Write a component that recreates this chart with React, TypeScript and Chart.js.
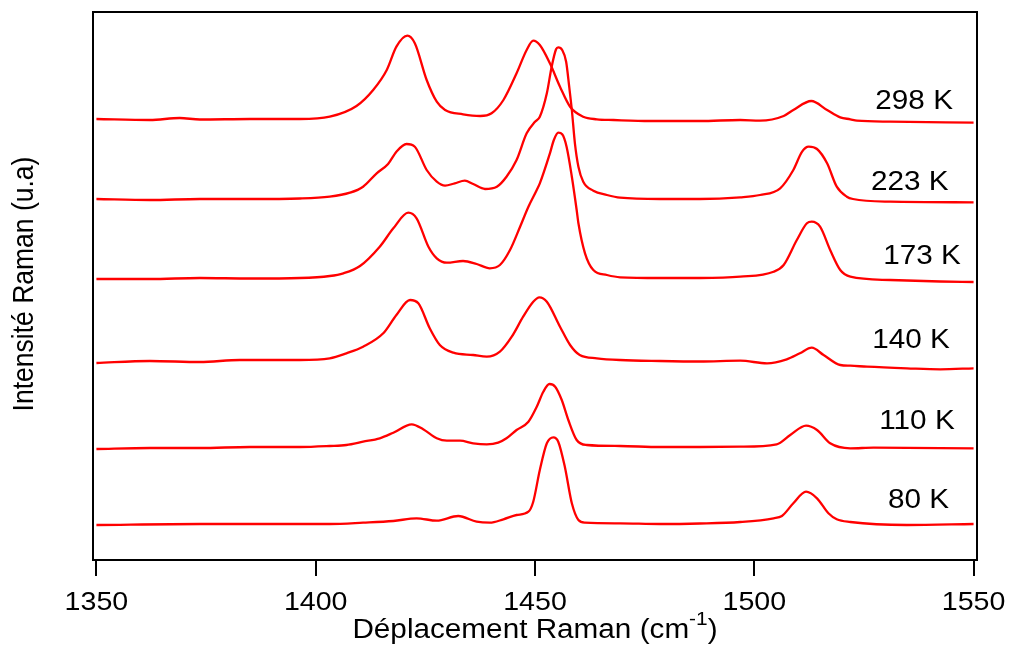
import React, { useEffect, useRef } from "react";
import { Chart, registerables } from "chart.js";

Chart.register(...registerables);

// Axis
const tickValues = [1350, 1400, 1450, 1500, 1550];
const xMin = 1349.22;
const xMax = 1550.78;
const yMin = 0;
const yMax = 548;

// Raman shift (cm-1) and intensity (a.u., stacked) for each temperature
const wn298 = [1350, 1362.2, 1369, 1373.6, 1385, 1396.4, 1403.2, 1409.3, 1413.1, 1416.2, 1418.4, 1420.9, 1422.6, 1425.3, 1427.6, 1429.5, 1433.6, 1437.5, 1440.1, 1442.8, 1445.8, 1448.1, 1449.6, 1451.1, 1453.4, 1455.7, 1458, 1461, 1464.1, 1467.9, 1476.2, 1487.6, 1496.8, 1501.3, 1506.7, 1508.9, 1513, 1516.6, 1519.6, 1521.9, 1523.4, 1531, 1550];
const int298 = [441, 440, 442, 440.5, 441, 441, 443.3, 454, 470, 490, 513.3, 524.3, 516.7, 480, 458.3, 450, 445.7, 444, 446.7, 460, 486.7, 510, 519.3, 515, 496.7, 473.3, 453.3, 443.3, 440.7, 440, 439, 439, 440, 439.3, 444, 450, 459, 450, 442.7, 440.7, 439.3, 438.3, 437.3];

const wn223 = [1350, 1362.2, 1373.6, 1385, 1396.4, 1403.2, 1407.8, 1410.8, 1413.9, 1416.5, 1418.4, 1420.7, 1422.6, 1425.3, 1427.6, 1429.5, 1431.7, 1434, 1435.9, 1438.6, 1441.3, 1443.5, 1445.8, 1448.1, 1450, 1451.1, 1452.7, 1453.8, 1454.8, 1455.3, 1456.2, 1457.1, 1457.8, 1458.4, 1459.1, 1459.9, 1461, 1463.3, 1466.4, 1469.4, 1478.5, 1487.6, 1496.8, 1501.3, 1505.9, 1508.9, 1510.9, 1512.4, 1514.3, 1516.6, 1518.8, 1521.1, 1522.5, 1531, 1550];
const int223 = [361, 360, 361, 361, 361.5, 363.3, 367.3, 373.3, 386.7, 396, 408.3, 416, 413.3, 390, 378.3, 374.3, 376.7, 379.3, 376, 371, 373.3, 383.3, 400, 426.7, 438.3, 443.3, 466.7, 493.3, 510.7, 512.7, 510, 498.3, 473.3, 450, 416.7, 393.3, 378.3, 369.3, 365, 362.3, 361, 361, 362.7, 365, 371.7, 390, 408.3, 413.3, 411, 396.7, 373.3, 363.3, 361, 358.3, 357.7];

const wn173 = [1350, 1362.2, 1373.6, 1385, 1396.4, 1403.2, 1406.3, 1410.1, 1414.6, 1417.7, 1421.1, 1423, 1425.7, 1427.6, 1429.9, 1433.6, 1436.7, 1439.7, 1442, 1444.3, 1446.6, 1448.5, 1450.4, 1451.1, 1453.4, 1454.3, 1455.3, 1456.2, 1457.2, 1458.4, 1459.5, 1459.9, 1461.4, 1463.3, 1466.4, 1469.4, 1478.5, 1487.6, 1496.8, 1504.4, 1506.7, 1509.7, 1512, 1513.1, 1515, 1517.3, 1519.6, 1521.9, 1531, 1542.4, 1550];
const int173 = [281, 281, 282, 281.5, 282, 284, 286.7, 294, 313.3, 331.7, 347.3, 341.7, 313.3, 301.7, 297.3, 299, 296, 291.7, 295, 310, 333.3, 353.3, 370, 376.7, 406.7, 420, 427.3, 425.7, 413.3, 383.3, 350, 336.7, 306.7, 290, 285, 282.7, 282, 282, 283.3, 288.3, 295, 320, 336.7, 338.3, 333.3, 310, 290, 283.3, 280, 278.5, 278];

const wn140 = [1350, 1362.2, 1373.6, 1382.7, 1396.4, 1403.2, 1407, 1410.8, 1415.4, 1418.4, 1421.5, 1423.4, 1426, 1428.3, 1431.4, 1435.9, 1439, 1442, 1444.7, 1447.3, 1449.6, 1451, 1452.7, 1455.7, 1458, 1460.2, 1464.1, 1469.4, 1478.5, 1487.6, 1496.8, 1502.9, 1507.4, 1510.4, 1513.1, 1515.8, 1519.6, 1521.9, 1525.7, 1534.8, 1542.4, 1550];
const int140 = [197, 199, 198, 200, 200, 201.7, 206.7, 213.3, 226.7, 245, 260, 256.7, 231.7, 215, 207.3, 205, 203.3, 208.3, 223.3, 243.3, 258.3, 262.7, 258.3, 233.3, 215, 205, 201.7, 200, 199, 198.5, 199.3, 196.7, 200.7, 206.7, 212.3, 205, 195, 194.3, 193.3, 191.7, 190.7, 191.7];

const wn110 = [1350, 1362.2, 1373.6, 1385, 1396.4, 1403.2, 1407, 1410.8, 1414.6, 1417.7, 1421.9, 1424.5, 1427.6, 1429.9, 1432.9, 1435.9, 1439, 1441.6, 1443.5, 1445.8, 1448.5, 1450.4, 1451.9, 1453.3, 1454.6, 1456.1, 1457.6, 1459.5, 1461.8, 1469.4, 1478.5, 1487.6, 1496.8, 1505.1, 1508.2, 1511.8, 1514.3, 1517.3, 1521.9, 1527.2, 1550];
const int110 = [111, 112, 112, 113, 113, 114, 115, 118.3, 121.7, 127.3, 135.7, 130.7, 121.7, 119.3, 119.3, 116.7, 115.7, 117.3, 121.7, 130, 138.3, 153.3, 168.3, 176, 173.3, 160, 140, 120, 115, 114, 113, 113, 113.3, 115.7, 125, 134.3, 130, 116.7, 111.7, 112.3, 111.7];

const wn80 = [1350, 1373.6, 1396.4, 1403.2, 1410.8, 1417.7, 1423, 1427.6, 1432.5, 1436.7, 1439.7, 1442.8, 1445.8, 1448.5, 1449.6, 1451.1, 1452.7, 1454.2, 1455.3, 1456.8, 1458.4, 1459.9, 1461.4, 1469.4, 1478.5, 1487.6, 1496.8, 1504.4, 1506.3, 1508.9, 1511.8, 1514.3, 1516.9, 1518.8, 1521.9, 1534.8, 1550];
const int80 = [35, 36, 36, 36, 37.3, 39, 41.7, 39.3, 44, 38.3, 37.3, 40.7, 45, 48.3, 58.3, 90, 116.7, 122.7, 118.3, 93.3, 56.7, 40, 37.3, 36.7, 36, 36.5, 38, 41.7, 44, 56.7, 68.3, 61.7, 46.7, 40.7, 38, 35, 36];

// Temperature labels (anchored in data coordinates)
const seriesLabels = ["298 K", "223 K", "173 K", "140 K", "110 K", "80 K"];
const labelX = [1527.6, 1526.6, 1529.4, 1526.9, 1528.5, 1530.5];
const labelY = [450.7, 370, 296, 211.7, 130.7, 51.7];

const xTitleMain = "Déplacement Raman (cm";
const xTitleSup = "-1";
const xTitleEnd = ")";
const yTitle = "Intensité Raman (u.a)";

const FONT = '"Liberation Sans", Arial, Helvetica, sans-serif';
const STRETCH = 1.1;

const zip = (xs: number[], ys: number[]) => xs.map((x, i) => ({ x, y: ys[i] }));

const series = [
  { name: "298 K", xs: wn298, ys: int298 },
  { name: "223 K", xs: wn223, ys: int223 },
  { name: "173 K", xs: wn173, ys: int173 },
  { name: "140 K", xs: wn140, ys: int140 },
  { name: "110 K", xs: wn110, ys: int110 },
  { name: "80 K", xs: wn80, ys: int80 },
];

const decorPlugin = {
  id: "decor",
  afterDraw(chart: any) {
    const ctx: CanvasRenderingContext2D = chart.ctx;
    const xs = chart.scales.x;
    const ys = chart.scales.y;
    const { left, right, top, bottom } = chart.chartArea;
    ctx.save();
    // top and right frame
    ctx.strokeStyle = "#000";
    ctx.lineWidth = 2;
    ctx.beginPath();
    ctx.moveTo(left - 1, top);
    ctx.lineTo(right, top);
    ctx.lineTo(right, bottom + 1);
    ctx.stroke();

    ctx.fillStyle = "#000";
    const drawText = (text: string, x: number, y: number, size: number, align: CanvasTextAlign) => {
      ctx.save();
      ctx.translate(x, y);
      ctx.scale(STRETCH, 1);
      ctx.font = `${size}px ${FONT}`;
      ctx.textAlign = align;
      ctx.textBaseline = "alphabetic";
      ctx.fillText(text, 0, 0);
      ctx.restore();
    };

    // tick labels
    tickValues.forEach((v) => drawText(String(v), xs.getPixelForValue(v), bottom + 49.5, 26, "center"));

    // series labels
    seriesLabels.forEach((t, i) =>
      drawText(t, xs.getPixelForValue(labelX[i]), ys.getPixelForValue(labelY[i]), 27, "left")
    );

    // x title with superscript
    const mainSize = 27;
    const supSize = 19;
    ctx.font = `${mainSize}px ${FONT}`;
    const wMain = ctx.measureText(xTitleMain).width * STRETCH;
    const wEnd = ctx.measureText(xTitleEnd).width * STRETCH;
    ctx.font = `${supSize}px ${FONT}`;
    const wSup = ctx.measureText(xTitleSup).width * STRETCH;
    const total = wMain + wSup + wEnd;
    const cx = (left + right) / 2;
    let sx = cx - total / 2;
    const base = bottom + 77.5;
    drawText(xTitleMain, sx, base, mainSize, "left");
    sx += wMain;
    drawText(xTitleSup, sx, base - 13, supSize, "left");
    sx += wSup;
    drawText(xTitleEnd, sx, base, mainSize, "left");

    // y title (rotated)
    ctx.save();
    ctx.translate(33, (top + bottom) / 2 - 2);
    ctx.rotate(-Math.PI / 2);
    ctx.scale(1, STRETCH);
    ctx.font = `26.5px ${FONT}`;
    ctx.textAlign = "center";
    ctx.textBaseline = "alphabetic";
    ctx.fillText(yTitle, 0, 0);
    ctx.restore();

    ctx.restore();
  },
};

export default function App() {
  const canvasRef = useRef<HTMLCanvasElement | null>(null);

  useEffect(() => {
    document.body.style.margin = "0";
    const canvas = canvasRef.current;
    if (!canvas) return;
    const chart = new Chart(canvas, {
      type: "line",
      data: {
        datasets: series.map((s) => ({
          label: s.name,
          data: zip(s.xs, s.ys),
          borderColor: "#ff0000",
          backgroundColor: "#ff0000",
          borderWidth: 2.3,
          pointRadius: 0,
          fill: false,
          cubicInterpolationMode: "monotone" as const,
        })),
      },
      options: {
        animation: false,
        responsive: false,
        devicePixelRatio: 1,
        events: [],
        layout: { padding: { top: 12, right: 32, left: 0, bottom: 0 } },
        plugins: {
          legend: { display: false },
          tooltip: { enabled: false },
          title: { display: false },
        },
        scales: {
          x: {
            type: "linear",
            min: xMin,
            max: xMax,
            afterBuildTicks: (scale: any) => {
              scale.ticks = tickValues.map((v) => ({ value: v }));
            },
            afterFit: (scale: any) => {
              scale.height = 85;
            },
            ticks: { display: false },
            grid: {
              display: true,
              drawOnChartArea: false,
              drawTicks: true,
              tickLength: 16,
              color: "#000",
              lineWidth: 2,
            },
            border: { display: true, color: "#000", width: 2 },
          },
          y: {
            type: "linear",
            min: yMin,
            max: yMax,
            afterFit: (scale: any) => {
              scale.width = 93;
            },
            ticks: { display: false },
            grid: { display: false },
            border: { display: true, color: "#000", width: 2 },
          },
        },
      },
      plugins: [decorPlugin],
    });
    return () => chart.destroy();
  }, []);

  return <canvas ref={canvasRef} width={1009} height={645} style={{ display: "block" }} />;
}
